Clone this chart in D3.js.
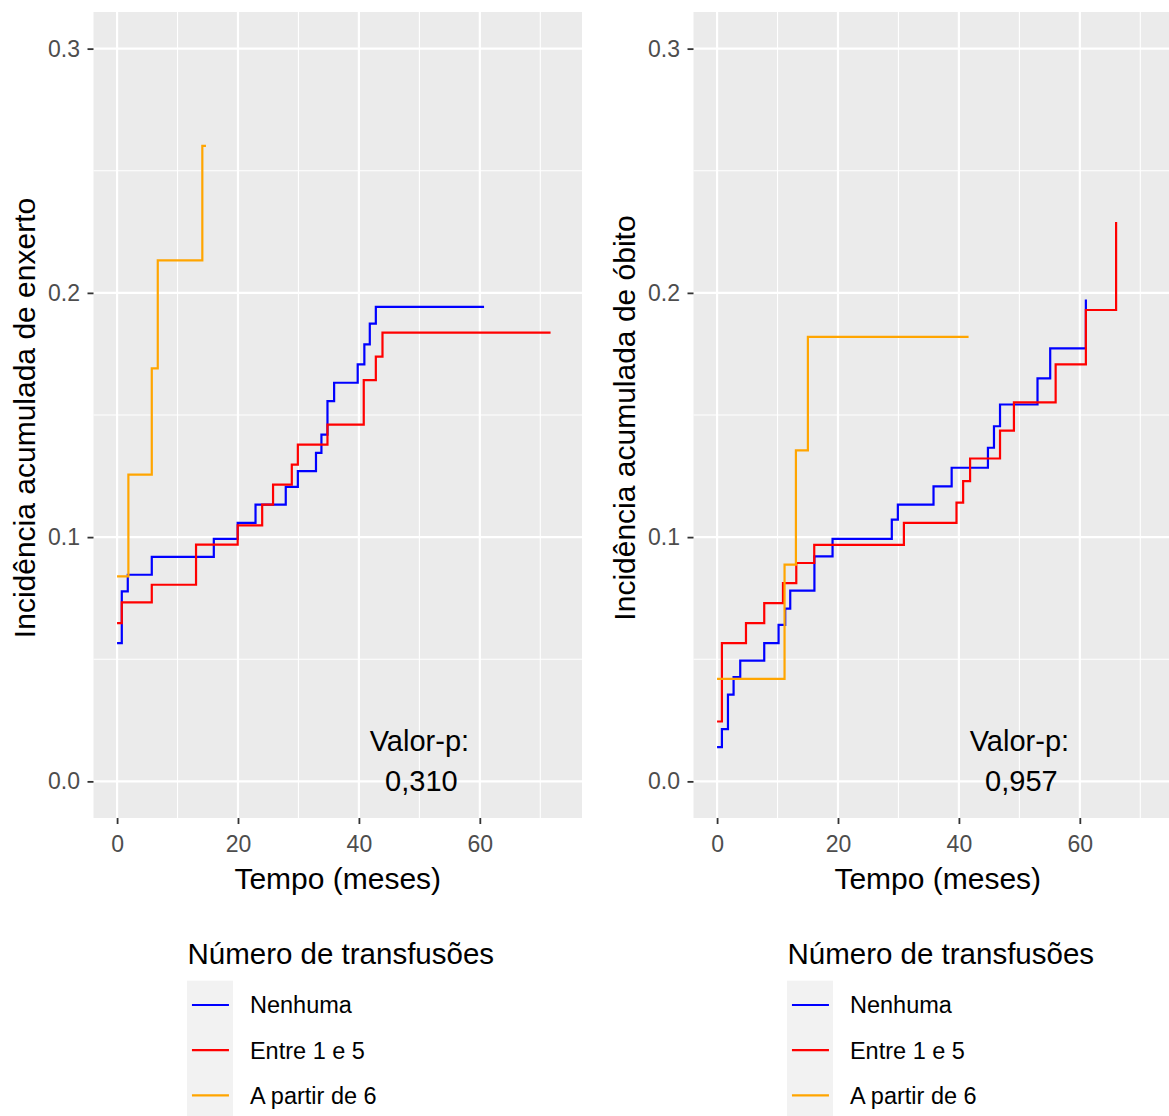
<!DOCTYPE html>
<html>
<head>
<meta charset="utf-8">
<script src="https://cdn.jsdelivr.net/npm/d3@7"></script>
<style>
  body { margin: 0; background: #ffffff; }
  svg { display: block; font-family: "Liberation Sans", Arial, sans-serif; }
</style>
</head>
<body>
<svg id="chart" width="1169" height="1116"></svg>
<script>
// Cumulative incidence step curves: [time in months, cumulative incidence]
// Panel 1: graft outcome (enxerto)
const enxertoNenhuma = [[0,0.0566],[0.78,0.0778],[1.77,0.0846],[5.74,0.0919],[16.0,0.0993],[19.95,0.1058],
  [22.9,0.1133],[27.9,0.1206],[29.9,0.127],[32.9,0.1345],[33.8,0.142],[34.8,0.1557],[35.9,0.1632],
  [39.8,0.1707],[40.9,0.1789],[41.8,0.1874],[42.8,0.1943],[60.7,0.1943]];
const enxertoEntre1e5 = [[0,0.0648],[0.78,0.0733],[5.74,0.0805],[13.06,0.0969],[19.95,0.1048],[24.0,0.1133],
  [25.8,0.1215],[28.9,0.1297],[29.9,0.1379],[34.8,0.1461],[40.8,0.1643],[42.8,0.1739],[43.9,0.1837],[71.7,0.1837]];
const enxertoAPartir6 = [[0,0.0839],[1.87,0.1256],[5.74,0.1691],[6.73,0.2133],[14.1,0.2602],[14.7,0.2602]];

// Panel 2: death outcome (óbito)
const obitoNenhuma = [[0,0.014],[0.8,0.0214],[1.8,0.0355],[2.73,0.0427],[3.83,0.0494],[7.8,0.0566],
  [10.17,0.0641],[11.27,0.0707],[12.1,0.0781],[16.1,0.0921],[19.1,0.0993],[28.9,0.1072],[29.9,0.1133],
  [35.8,0.1208],[38.8,0.1284],[44.8,0.1366],[45.8,0.1454],[46.8,0.1543],[53.0,0.165],[55.1,0.1773],[61.0,0.1973]];
const obitoEntre1e5 = [[0,0.0245],[0.8,0.0566],[4.78,0.0648],[7.8,0.073],[10.9,0.0812],[13.1,0.0894],
  [16.07,0.0968],[30.9,0.1058],[39.6,0.1141],[40.7,0.1229],[41.85,0.1322],[46.8,0.1436],[49.1,0.1552],
  [56.0,0.1707],[61.0,0.193],[66.0,0.229]];
const obitoAPartir6 = [[0,0.042],[11.16,0.0887],[13.04,0.1355],[15.02,0.182],[41.6,0.182]];

const groupNames = ["Nenhuma", "Entre 1 e 5", "A partir de 6"];
const groupColors = ["#0000FF", "#FF0000", "#FFA500"];
const legendTitle = "Número de transfusões";
const xTitle = "Tempo (meses)";
const yTitles = ["Incidência acumulada de enxerto", "Incidência acumulada de óbito"];
const pLabel = "Valor-p:";
const pValues = ["0,310", "0,957"];
const pPosition = [50, 0.01];
const xTicks = [0, 20, 40, 60];
const xMinorTicks = [10, 30, 50, 70];
const yTicks = [0, 0.1, 0.2, 0.3];
const yMinorTicks = [0.05, 0.15, 0.25];
const xDomain = [-3.9, 76.9];
const yDomain = [-0.015, 0.315];

const panels = [
  { series: [enxertoNenhuma, enxertoEntre1e5, enxertoAPartir6], yTitle: yTitles[0], p: pValues[0], left: 93.5 },
  { series: [obitoNenhuma, obitoEntre1e5, obitoAPartir6], yTitle: yTitles[1], p: pValues[1], left: 693.5 }
];

const svg = d3.select("#chart");
const panelTop = 12, panelH = 806, panelW = 488.5;

panels.forEach(panel => {
  const g = svg.append("g").attr("transform", `translate(${panel.left},${panelTop})`);
  const x = d3.scaleLinear().domain(xDomain).range([0, panelW]);
  const y = d3.scaleLinear().domain(yDomain).range([panelH, 0]);

  // panel background and grid
  g.append("rect").attr("width", panelW).attr("height", panelH).attr("fill", "#EBEBEB");
  g.selectAll(".xminor").data(xMinorTicks).join("line")
    .attr("x1", d => x(d)).attr("x2", d => x(d)).attr("y1", 0).attr("y2", panelH)
    .attr("stroke", "#FFFFFF").attr("stroke-width", 1.1);
  g.selectAll(".yminor").data(yMinorTicks).join("line")
    .attr("x1", 0).attr("x2", panelW).attr("y1", d => y(d)).attr("y2", d => y(d))
    .attr("stroke", "#FFFFFF").attr("stroke-width", 1.1);
  g.selectAll(".xmajor").data(xTicks).join("line")
    .attr("x1", d => x(d)).attr("x2", d => x(d)).attr("y1", 0).attr("y2", panelH)
    .attr("stroke", "#FFFFFF").attr("stroke-width", 2.2);
  g.selectAll(".ymajor").data(yTicks).join("line")
    .attr("x1", 0).attr("x2", panelW).attr("y1", d => y(d)).attr("y2", d => y(d))
    .attr("stroke", "#FFFFFF").attr("stroke-width", 2.2);

  // step curves
  const line = d3.line().x(d => x(d[0])).y(d => y(d[1])).curve(d3.curveStepAfter);
  panel.series.forEach((s, i) => {
    g.append("path").datum(s).attr("d", line)
      .attr("fill", "none").attr("stroke", groupColors[i]).attr("stroke-width", 2.2);
  });

  // p-value annotation
  const ann = g.append("text").attr("text-anchor", "middle").attr("font-size", 29).attr("fill", "#000");
  ann.append("tspan").attr("x", x(pPosition[0])).attr("y", y(pPosition[1]) - 6).text(pLabel);
  ann.append("tspan").attr("x", x(pPosition[0]) + 2).attr("y", y(pPosition[1]) + 34).text(panel.p);

  // axes
  const yAxis = g.append("g").call(d3.axisLeft(y).tickValues(yTicks).tickFormat(d3.format(".1f")).tickSize(6).tickPadding(7.5));
  const xAxis = g.append("g").attr("transform", `translate(0,${panelH})`)
    .call(d3.axisBottom(x).tickValues(xTicks).tickFormat(d3.format("d")).tickSize(6).tickPadding(12));
  [yAxis, xAxis].forEach(a => {
    a.select(".domain").remove();
    a.selectAll(".tick line").attr("stroke", "#333333").attr("stroke-width", 1.8);
    a.selectAll(".tick text").attr("fill", "#4D4D4D").attr("font-size", 23)
      .attr("font-family", "'Liberation Sans', Arial, sans-serif");
  });

  // axis titles
  g.append("text").attr("x", panelW / 2).attr("y", 877).attr("text-anchor", "middle")
    .attr("font-size", 30).attr("fill", "#000").text(xTitle);
  g.append("text").attr("transform", `translate(${-58.5},${panelH / 2 + 3}) rotate(-90)`)
    .attr("text-anchor", "middle").attr("font-size", 30).attr("fill", "#000").text(panel.yTitle);

  // legend
  const lg = svg.append("g").attr("transform", `translate(${panel.left + panelW / 2 - 150.8},0)`);
  lg.append("text").attr("x", 0.5).attr("y", 964).attr("font-size", 29.5).attr("fill", "#000").text(legendTitle);
  lg.append("rect").attr("x", 0).attr("y", 980.7).attr("width", 46).attr("height", 138).attr("fill", "#F2F2F2");
  groupNames.forEach((name, i) => {
    const ly = 1005 + i * 45.2;
    lg.append("line").attr("x1", 5).attr("x2", 42).attr("y1", ly).attr("y2", ly)
      .attr("stroke", groupColors[i]).attr("stroke-width", 2.2);
    lg.append("text").attr("x", 63).attr("y", ly + 8.3).attr("font-size", 23.5).attr("fill", "#000").text(name);
  });
});
</script>
</body>
</html>
